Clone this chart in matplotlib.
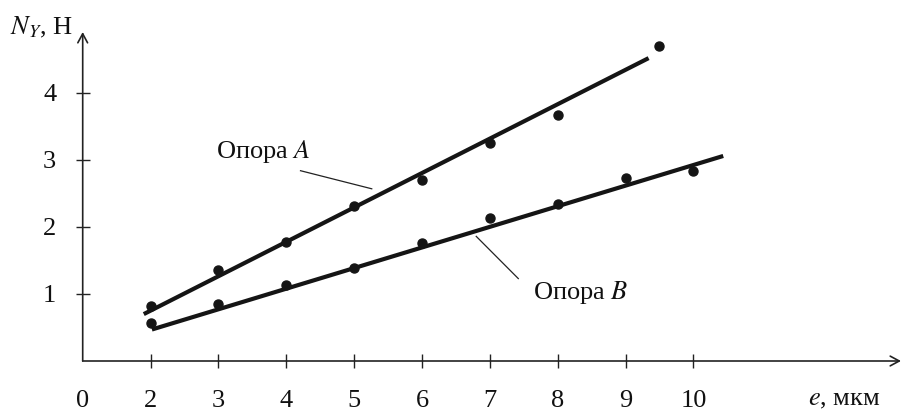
import matplotlib
matplotlib.use("Agg")
import matplotlib.pyplot as plt

plt.rcParams['font.family'] = ['Liberation Serif', 'DejaVu Serif']
plt.rcParams['mathtext.fontset'] = 'stix'

# measured points, e (мкм) vs N_Y (Н)
e_a = [2, 3, 4, 5, 6, 7, 8, 9.5]
n_a = [0.82, 1.36, 1.77, 2.31, 2.70, 3.26, 3.67, 4.70]
e_b = [2, 3, 4, 5, 6, 7, 8, 9, 10]
n_b = [0.57, 0.85, 1.13, 1.39, 1.76, 2.14, 2.35, 2.73, 2.84]

# fitted lines (end points)
fit_a_e = [1.90, 9.34]
fit_a_n = [0.70, 4.52]
fit_b_e = [2.02, 10.44]
fit_b_n = [0.47, 3.06]

# axis is broken: the origin "0" sits one unit left of 2
x_ticks = [1, 2, 3, 4, 5, 6, 7, 8, 9, 10]
x_labels = ['0', '2', '3', '4', '5', '6', '7', '8', '9', '10']
y_ticks = [1, 2, 3, 4]

FS = 19

fig = plt.figure(figsize=(9.02, 4.11), dpi=100)
ax = fig.add_axes([82.7 / 902, 50 / 411, (901 - 82.7) / 902, (379 - 50) / 411])
ax.set_xlim(1, 13.06)
ax.set_ylim(0, 4.91)

for s in ax.spines.values():
    s.set_visible(False)

# axes with open arrow heads
arrow = dict(arrowstyle='->,head_length=0.65,head_width=0.35', lw=1.2, color='#222222',
             mutation_scale=10, shrinkA=0, shrinkB=0)
ax.annotate('', xy=(0, 1), xytext=(0, 0), xycoords='axes fraction', arrowprops=arrow)
ax.annotate('', xy=(1, 0), xytext=(0, 0), xycoords='axes fraction', arrowprops=arrow)

ax.set_xticks(x_ticks)
ax.set_xticklabels(x_labels)
ax.set_yticks(y_ticks)
ax.tick_params(direction='inout', length=10, width=1.0, color='#222222',
               labelsize=FS, labelcolor='#111111')
ax.tick_params(axis='x', pad=16)
ax.tick_params(axis='y', pad=14)
ax.xaxis.get_major_ticks()[0].tick1line.set_visible(False)

ax.plot(fit_a_e, fit_a_n, color='#151515', lw=3, solid_capstyle='butt')
ax.plot(fit_b_e, fit_b_n, color='#151515', lw=3, solid_capstyle='butt')
ax.plot(e_a, n_a, 'o', color='#151515', ms=6.5)
ax.plot(e_b, n_b, 'o', color='#151515', ms=6.5)

# labels with leader lines
ax.text(3.66, 3.13, 'Опора $A$', fontsize=FS, ha='center', va='center', color='#111111')
ax.plot([4.21, 5.26], [2.84, 2.57], color='#222222', lw=0.9)
ax.text(8.34, 1.02, 'Опора $B$', fontsize=FS, ha='center', va='center', color='#111111')
ax.plot([6.80, 7.42], [1.86, 1.23], color='#222222', lw=0.9)

fig.text(73 / 902, 1 - 27 / 411, '$N_Y$, Н', fontsize=FS, ha='right', va='center', color='#111111')
fig.text(880 / 902, 1 - 400 / 411, '$e$, мкм', fontsize=FS, ha='right', va='center', color='#111111')

fig.savefig('out.png', dpi=100)
